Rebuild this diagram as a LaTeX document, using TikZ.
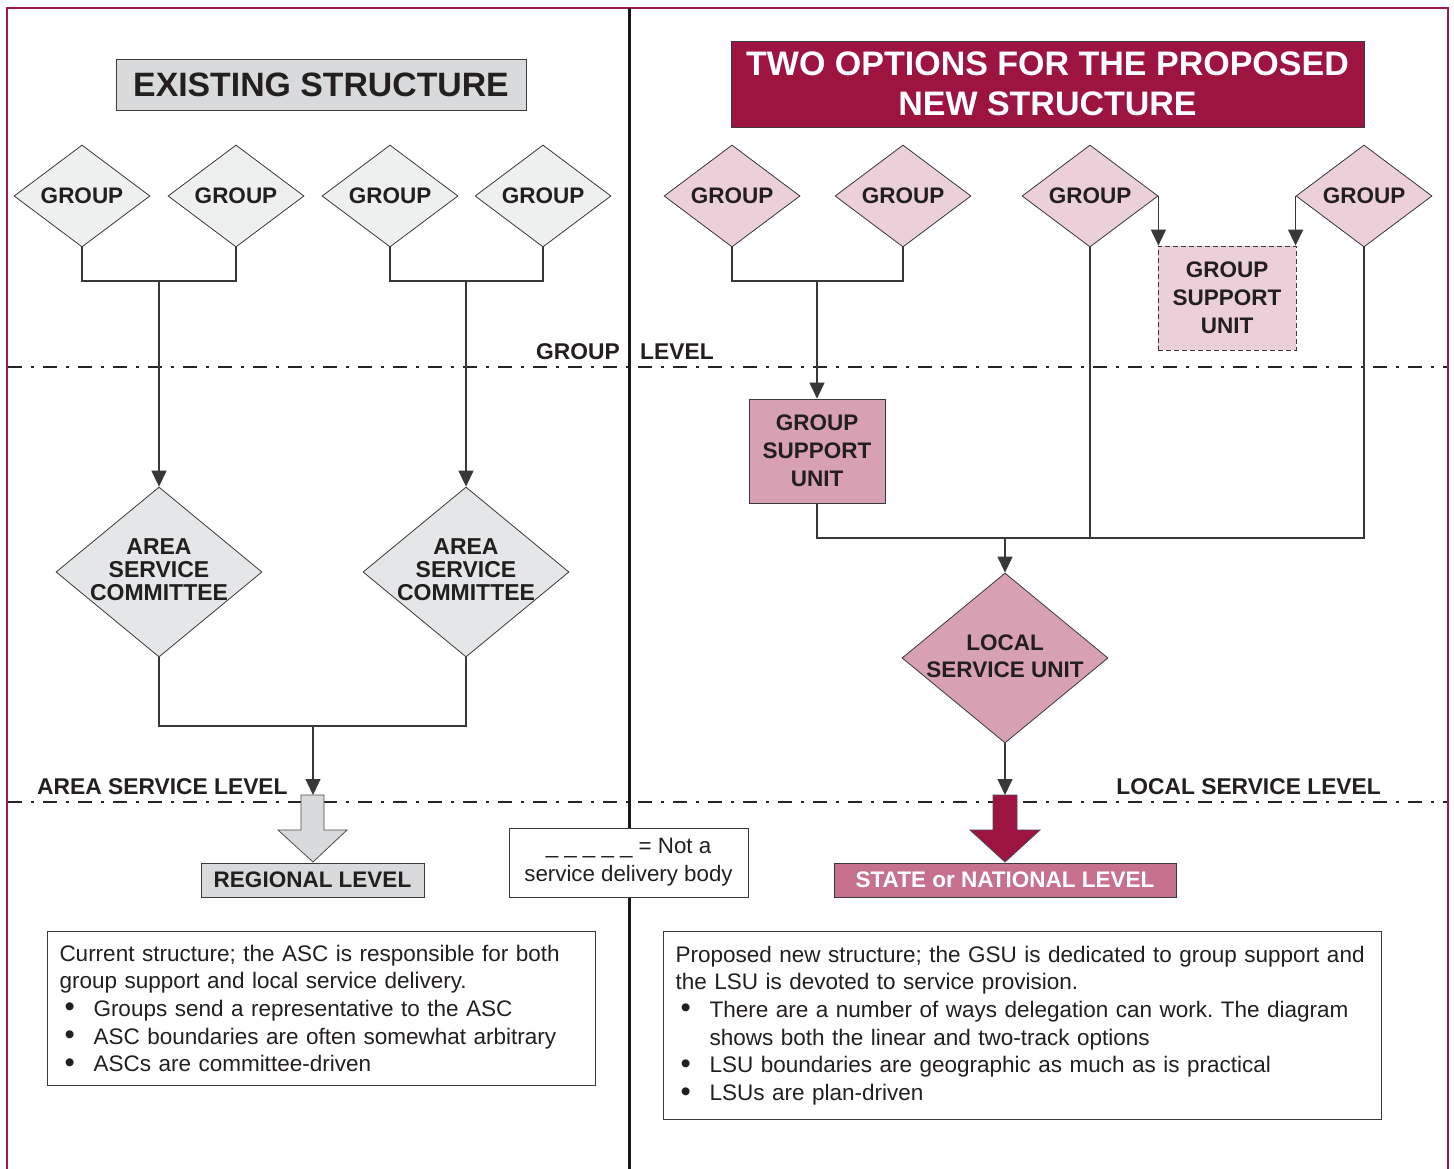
\documentclass[tikz,border=0pt]{standalone}
\usepackage{fontspec}
\setmainfont{Liberation Sans}
\usetikzlibrary{shapes.geometric,arrows.meta}
\definecolor{crim}{HTML}{9E1440}
\definecolor{framec}{HTML}{A3194B}
\definecolor{pinkL}{HTML}{EBCFD9}
\definecolor{pinkM}{HTML}{D8A0B3}
\definecolor{pinkS}{HTML}{C6718E}
\definecolor{grayL}{HTML}{EEEFEF}
\definecolor{grayA}{HTML}{E5E6E7}
\definecolor{grayB}{HTML}{D9DADB}
\definecolor{edgec}{HTML}{3A3A3A}
\definecolor{txt}{HTML}{231F20}
\newcommand{\bulx}{\makebox[34pt][l]{\hspace{5pt}\raisebox{-0.5pt}{\scalebox{1.3}{\textbullet}}}}
\frenchspacing
\begin{document}
\begin{tikzpicture}[x=1pt,y=-1pt,
  grp/.style={diamond, draw=edgec, line width=0.8pt, minimum width=136pt, minimum height=102pt, inner sep=0pt, text=txt, font=\fontsize{22.5}{23}\selectfont\bfseries},
  bigd/.style={diamond, draw=edgec, line width=0.8pt, minimum width=206pt, minimum height=170pt, inner sep=0pt},
  dtext/.style={align=center, inner sep=0pt, text=txt, font=\fontsize{23}{23}\selectfont\bfseries},
  unitbox/.style={draw=edgec, line width=0.8pt, minimum width=136pt, minimum height=104pt, inner sep=0pt, align=center, text=txt, font=\fontsize{22.5}{28}\selectfont\bfseries},
  lvlbox/.style={draw=edgec, line width=0.8pt, minimum height=34pt, inner sep=0pt, font=\fontsize{22.5}{23}\selectfont\bfseries},
  lvl/.style={inner sep=0pt, text=txt, font=\fontsize{22.8}{22}\selectfont\bfseries},
  conn/.style={draw=black!78, line width=1.3pt},
  arr/.style={conn, -{Triangle[length=16pt,width=15pt]}},
  levelline/.style={draw=black!85, line width=2pt, dash pattern=on 14pt off 9pt on 3pt off 9pt},
  tbox/.style={draw=edgec, line width=1pt, inner xsep=12pt, inner ysep=6pt, align=left, text=txt, font=\fontsize{22.5}{27.7}\selectfont}
]
% canvas
\fill[white] (0,0) rectangle (1454,1169);
\useasboundingbox (0,0) rectangle (1454,1169);

% level lines
\draw[levelline] (8,367) -- (1448,367);
\draw[levelline] (8,802) -- (1448,802);

% frame and divider
\draw[framec, line width=2pt] (7,1169) -- (7,8) -- (1448,8) -- (1448,1169);
\draw[black!90, line width=3pt] (629,8) -- (629,1169);

% titles
\node[draw=edgec, line width=0.8pt, fill=grayB, minimum width=410pt, minimum height=51pt, inner sep=0pt, text=txt, font=\fontsize{33.8}{33}\selectfont\bfseries] (ex) at (321,84.5) {EXISTING STRUCTURE};
\node[draw=edgec, line width=0.8pt, fill=crim, text=white, minimum width=633pt, minimum height=86pt, inner sep=0pt, align=center, font=\fontsize{34}{40}\selectfont\bfseries] (two) at (1047.5,84) {TWO OPTIONS FOR THE PROPOSED\\NEW STRUCTURE};

% left groups
\node[grp, fill=grayL] (g1) at (82,196) {GROUP};
\node[grp, fill=grayL] (g2) at (236,196) {GROUP};
\node[grp, fill=grayL] (g3) at (390,196) {GROUP};
\node[grp, fill=grayL] (g4) at (543,196) {GROUP};

% ASC
\node[bigd, fill=grayA] (asc1) at (159,572) {};
\node[dtext] (asc1t) at (159,570) {AREA\\SERVICE\\COMMITTEE};
\node[bigd, fill=grayA] (asc2) at (466,572) {};
\node[dtext] (asc2t) at (466,570) {AREA\\SERVICE\\COMMITTEE};

\coordinate (m1) at (159,281);
\coordinate (m2) at (466,281);
\coordinate (m5) at (313,726);
\coordinate (ga) at (313,795);

\draw[conn] (g1.south) |- (m1) -| (g2.south);
\draw[conn] (g3.south) |- (m2) -| (g4.south);
\draw[arr] (m1) -- (asc1.north);
\draw[arr] (m2) -- (asc2.north);
\draw[conn] (asc1.south) |- (m5) -| (asc2.south);
\draw[arr] (m5) -- (ga);

% right groups
\node[grp, fill=pinkL] (r1) at (732,196) {GROUP};
\node[grp, fill=pinkL] (r2) at (903,196) {GROUP};
\node[grp, fill=pinkL] (r3) at (1090,196) {GROUP};
\node[grp, fill=pinkL] (r4) at (1364,196) {GROUP};

\node[unitbox, fill=pinkM] (gsu) at (817,451) {GROUP\\SUPPORT\\UNIT};
\node[unitbox, fill=pinkL, dash pattern=on 5pt off 3pt, minimum width=138pt] (dgsu) at (1227,298) {GROUP\\SUPPORT\\UNIT};

\node[bigd, fill=pinkM] (lsu) at (1005,658) {};
\node[dtext, font=\fontsize{22.5}{27}\selectfont\bfseries] (lsut) at (1005,656) {LOCAL\\SERVICE UNIT};

\coordinate (m3) at (817,281);
\coordinate (m4) at (1005,538);
\coordinate (sa) at (1005,795);

\draw[conn] (r1.south) |- (m3) -| (r2.south);
\draw[arr] (m3) -- (gsu.north);
\draw[conn] (gsu.south) |- (m4) -| (r4.south);
\draw[conn] (r3.south) -- (r3.south |- m4);
\draw[arr] (m4) -- (lsu.north);
\draw[arr] (r3.east) -- (r3.east |- dgsu.north);
\draw[arr] (r4.west) -- (r4.west |- dgsu.north);
\draw[arr] (lsu.south) -- (sa);

% level labels
\node[lvl, anchor=base east] (glA) at (620,359) {GROUP};
\node[lvl, anchor=base west] (glB) at (640,359) {LEVEL};
\node[lvl, anchor=base west] (asl) at (37,794) {AREA SERVICE LEVEL};
\node[lvl, anchor=base east] (lsl) at (1381,794) {LOCAL SERVICE LEVEL};

% big arrows
\draw[fill=grayB, draw=black!70, line width=0.8pt] (301,795) -- (324,795) -- (324,830) -- (347,830) -- (313,862) -- (278,830) -- (301,830) -- cycle;
\draw[fill=crim, draw=black!70, line width=0.8pt] (993,795) -- (1017,795) -- (1017,830) -- (1040,830) -- (1005,862) -- (970,830) -- (993,830) -- cycle;

% level boxes
\node[lvlbox, fill=grayB, text=txt, minimum width=223pt] (reg) at (312.5,880) {REGIONAL LEVEL};
\node[lvlbox, fill=pinkS, text=white, minimum width=342pt] (st) at (1005,880) {STATE or NATIONAL LEVEL};

% legend
\node[draw=edgec, line width=0.8pt, fill=white, minimum width=239pt, minimum height=69pt, inner sep=0pt, align=center, text=txt, font=\fontsize{22.3}{28}\selectfont] (leg) at (628.5,862.5) {\_ \_ \_ \_ \_ = Not a\\service delivery body};

% text boxes
\node[tbox, anchor=north west, text width=524pt, minimum height=154pt] (lt) at (47,931) {Current structure; the ASC is responsible for both\\group support and local service delivery.\\\bulx Groups send a representative to the ASC\\\bulx ASC boundaries are often somewhat arbitrary\\\bulx ASCs are committee-driven};
\node[tbox, anchor=north west, text width=694pt, minimum height=188pt] (rt) at (663,931) {Proposed new structure; the GSU is dedicated to group support and\\the LSU is devoted to service provision.\\\bulx There are a number of ways delegation can work. The diagram\\\hspace*{34pt}shows both the linear and two-track options\\\bulx LSU boundaries are geographic as much as is practical\\\bulx LSUs are plan-driven};
\end{tikzpicture}
\end{document}
